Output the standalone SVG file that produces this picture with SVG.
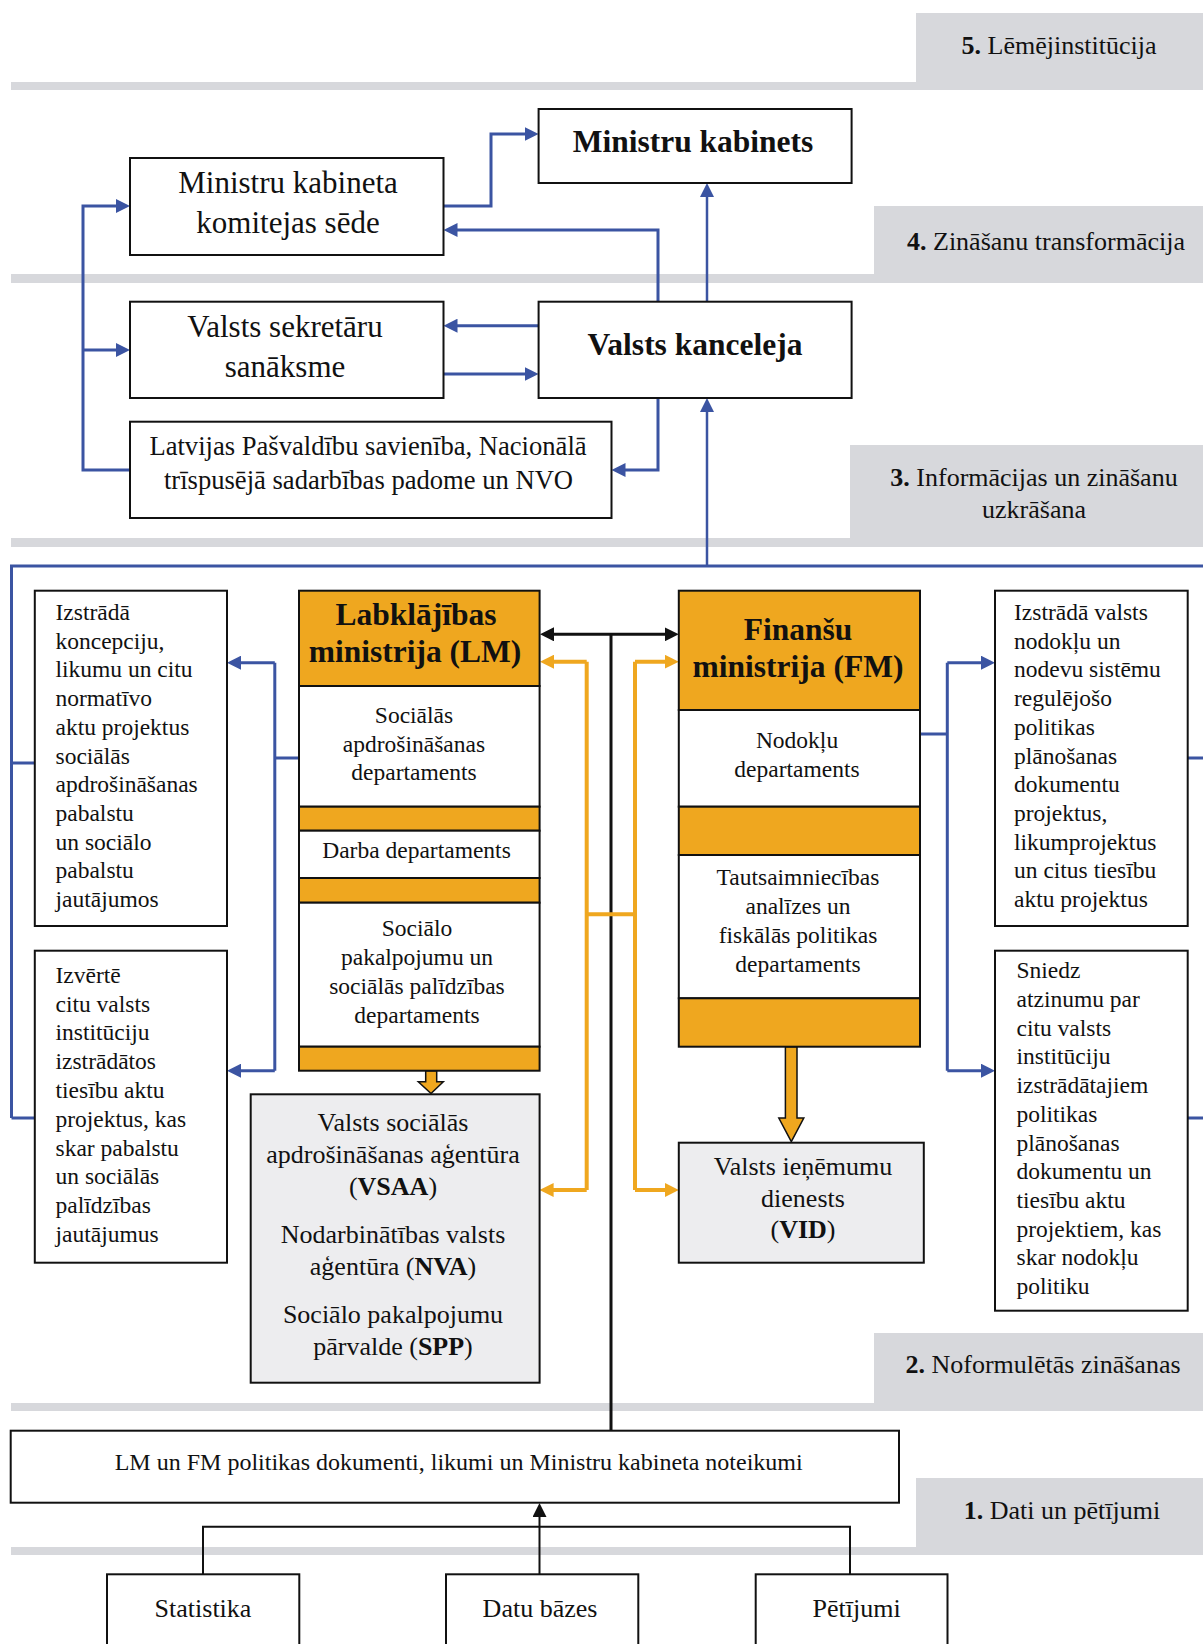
<svg xmlns="http://www.w3.org/2000/svg" width="1203" height="1644" viewBox="0 0 1203 1644">
<style>
text{font-family:"Liberation Serif","Times New Roman",serif;fill:#111}
.box{fill:#fff;stroke:#111;stroke-width:2}
.gbox{fill:#ededef;stroke:#111;stroke-width:2}
.obox{fill:#efa71f;stroke:#111;stroke-width:2}
.band{fill:#d7d8dc}
.lbl{font-size:26px;text-anchor:middle}
.big{font-size:31px;text-anchor:middle}
.bigb{font-size:31.5px;font-weight:bold;text-anchor:middle}
.mid{font-size:26px;text-anchor:middle}
.lps{font-size:26.6px;text-anchor:middle}
.doc{font-size:24px;text-anchor:middle}
.dep{font-size:23.5px;text-anchor:middle}
.side{font-size:23.5px}
.blue{fill:none;stroke:#3b54a2;stroke-width:3}
.blt{fill:none;stroke:#3b54a2;stroke-width:2.5}
.blk{fill:none;stroke:#111;stroke-width:3}
.blk2{fill:none;stroke:#111;stroke-width:2}
.org{fill:none;stroke:#efa71f;stroke-width:4}
.barrow{fill:#efa71f;stroke:#111;stroke-width:1.5}
</style>
<defs>
<marker id="ab" viewBox="0 0 14 14" markerWidth="14" markerHeight="14" refX="8" refY="7" orient="auto" markerUnits="userSpaceOnUse"><path d="M0,0 L14,7 L0,14 z" fill="#3b54a2"/></marker>
<marker id="ak" viewBox="0 0 14 14" markerWidth="14" markerHeight="14" refX="8" refY="7" orient="auto-start-reverse" markerUnits="userSpaceOnUse"><path d="M0,0 L14,7 L0,14 z" fill="#111"/></marker>
<marker id="ao" viewBox="0 0 14 14" markerWidth="14" markerHeight="14" refX="8" refY="7" orient="auto" markerUnits="userSpaceOnUse"><path d="M0,0 L14,7 L0,14 z" fill="#efa71f"/></marker>
</defs>

<g id="bands">
<rect class="band" x="916" y="13" width="287" height="70"/>
<rect class="band" x="11" y="82" width="1192" height="8"/>
<rect class="band" x="874" y="206" width="329" height="69"/>
<rect class="band" x="11" y="274" width="1192" height="9"/>
<rect class="band" x="850" y="445" width="353" height="94"/>
<rect class="band" x="11" y="538" width="1192" height="9"/>
<rect class="band" x="874" y="1333" width="329" height="71"/>
<rect class="band" x="11" y="1403" width="1192" height="8"/>
<rect class="band" x="916" y="1478" width="287" height="70"/>
<rect class="band" x="11" y="1547" width="1192" height="8"/>
<text class="lbl" x="1059" y="54"><tspan font-weight="bold">5.</tspan> Lēmējinstitūcija</text>
<text class="lbl" x="1046" y="250"><tspan font-weight="bold">4.</tspan> Zināšanu transformācija</text>
<text class="lbl" x="1034" y="486"><tspan font-weight="bold">3.</tspan> Informācijas un zināšanu</text>
<text class="lbl" x="1034" y="518">uzkrāšana</text>
<text class="lbl" x="1043" y="1373"><tspan font-weight="bold">2.</tspan> Noformulētās zināšanas</text>
<text class="lbl" x="1062" y="1519"><tspan font-weight="bold">1.</tspan> Dati un pētījumi</text>
</g>

<g id="connectors">
<path class="blue" d="M443.5,206 H491 V134 H532.6" marker-end="url(#ab)"/>
<path class="blue" d="M658,301.7 V230 H449.5" marker-end="url(#ab)"/>
<path class="blt" d="M707,301.7 V189" marker-end="url(#ab)"/>
<path class="blue" d="M538.6,325.7 H449.5" marker-end="url(#ab)"/>
<path class="blue" d="M443.5,374 H532.6" marker-end="url(#ab)"/>
<path class="blue" d="M658,398 V470 H617.5" marker-end="url(#ab)"/>
<path class="blue" d="M130,470 H83 V206 H124" marker-end="url(#ab)"/>
<path class="blue" d="M83,350 H124" marker-end="url(#ab)"/>
<path class="blt" d="M707,566 V404" marker-end="url(#ab)"/>
<path class="blue" d="M11.5,1118 V566 H1203"/>
<path class="blue" d="M11.5,763 H34.8 M11.5,1118 H34.8"/>
<path class="blue" d="M299,758 H274.8 M274.8,662.7 V1070.7"/>
<path class="blue" d="M274.8,662.7 H233" marker-end="url(#ab)"/>
<path class="blue" d="M274.8,1070.7 H233" marker-end="url(#ab)"/>
<path class="blue" d="M920,734 H947.3 M947.3,662.7 V1070.7"/>
<path class="blue" d="M947.3,662.7 H989" marker-end="url(#ab)"/>
<path class="blue" d="M947.3,1070.7 H989" marker-end="url(#ab)"/>
<path class="blue" d="M1187.7,758 H1203 M1187.7,1118 H1203"/>
<path class="blk" d="M546,634.3 H672.8" marker-start="url(#ak)" marker-end="url(#ak)"/>
<path class="blk" d="M611,634.3 V1430.7"/>
<path class="org" d="M586.7,661.7 V1190"/>
<path class="org" d="M586.7,661.7 H546" marker-end="url(#ao)"/>
<path class="org" d="M586.7,1190 H545.6" marker-end="url(#ao)"/>
<path class="org" d="M635,661.7 V1190 M586.7,914.3 H635"/>
<path class="org" d="M635,661.7 H672.8" marker-end="url(#ao)"/>
<path class="org" d="M635,1190 H672.8" marker-end="url(#ao)"/>
<path class="blk2" d="M539.5,1574.3 V1509" marker-end="url(#ak)"/>
<path class="blk2" d="M203,1574.3 V1526.7 H850 V1574.3"/>
<polygon class="barrow" points="425.7,1070.7 436.7,1070.7 436.7,1081.7 443.3,1081.7 431,1093.5 418.3,1081.7 425.7,1081.7"/>
<polygon class="barrow" points="785.4,1046.7 797,1046.7 797,1118 803.8,1118 791.3,1141.7 778.8,1118 785.4,1118"/>
</g>

<g id="mk">
<rect class="box" x="538.6" y="109" width="313" height="74"/>
<text class="bigb" x="693" y="152">Ministru kabinets</text>
</g>
<g id="mkks">
<rect class="box" x="130" y="158" width="313.5" height="97"/>
<text class="big" x="288" y="193">Ministru kabineta</text>
<text class="big" x="288" y="233">komitejas sēde</text>
</g>
<g id="vss">
<rect class="box" x="130" y="301.7" width="313.5" height="96.3"/>
<text class="big" x="285" y="337">Valsts sekretāru</text>
<text class="big" x="285" y="376.7">sanāksme</text>
</g>
<g id="vk">
<rect class="box" x="538.6" y="301.7" width="313" height="96.3"/>
<text class="bigb" x="695" y="355">Valsts kanceleja</text>
</g>
<g id="lps">
<rect class="box" x="130" y="421.7" width="481.5" height="96.3"/>
<text class="lps" x="368" y="455">Latvijas Pašvaldību savienība, Nacionālā</text>
<text class="lps" x="368.5" y="489">trīspusējā sadarbības padome un NVO</text>
</g>

<g id="left1">
<rect class="box" x="34.8" y="590.7" width="192.2" height="335.3"/>
<text class="side" x="55.5" y="620">Izstrādā</text>
<text class="side" x="55.5" y="648.7">koncepciju,</text>
<text class="side" x="55.5" y="677.4">likumu un citu</text>
<text class="side" x="55.5" y="706.1">normatīvo</text>
<text class="side" x="55.5" y="734.8">aktu projektus</text>
<text class="side" x="55.5" y="763.5">sociālās</text>
<text class="side" x="55.5" y="792.2">apdrošināšanas</text>
<text class="side" x="55.5" y="820.9">pabalstu</text>
<text class="side" x="55.5" y="849.6">un sociālo</text>
<text class="side" x="55.5" y="878.3">pabalstu</text>
<text class="side" x="55.5" y="907">jautājumos</text>
</g>
<g id="left2">
<rect class="box" x="34.8" y="950.7" width="192.2" height="312"/>
<text class="side" x="55.5" y="982.7">Izvērtē</text>
<text class="side" x="55.5" y="1011.5">citu valsts</text>
<text class="side" x="55.5" y="1040.3">institūciju</text>
<text class="side" x="55.5" y="1069.1">izstrādātos</text>
<text class="side" x="55.5" y="1097.9">tiesību aktu</text>
<text class="side" x="55.5" y="1126.7">projektus, kas</text>
<text class="side" x="55.5" y="1155.5">skar pabalstu</text>
<text class="side" x="55.5" y="1184.3">un sociālās</text>
<text class="side" x="55.5" y="1213.1">palīdzības</text>
<text class="side" x="55.5" y="1241.9">jautājumus</text>
</g>

<g id="lm">
<rect class="obox" x="299" y="590.7" width="240.6" height="95.3"/>
<rect class="box" x="299" y="686" width="240.6" height="120.7"/>
<rect class="obox" x="299" y="806.7" width="240.6" height="24"/>
<rect class="box" x="299" y="830.7" width="240.6" height="47.3"/>
<rect class="obox" x="299" y="878" width="240.6" height="24.7"/>
<rect class="box" x="299" y="902.7" width="240.6" height="144"/>
<rect class="obox" x="299" y="1046.7" width="240.6" height="24"/>
<text class="bigb" x="416" y="625">Labklājības</text>
<text class="bigb" x="415" y="661.7">ministrija (LM)</text>
<text class="dep" x="414" y="723.3">Sociālās</text>
<text class="dep" x="414" y="751.7">apdrošināšanas</text>
<text class="dep" x="414" y="780">departaments</text>
<text class="dep" x="416.5" y="858.3">Darba departaments</text>
<text class="dep" x="417" y="936">Sociālo</text>
<text class="dep" x="417" y="965">pakalpojumu un</text>
<text class="dep" x="417" y="994.3">sociālās palīdzības</text>
<text class="dep" x="417" y="1023.3">departaments</text>
</g>

<g id="agencies">
<rect class="gbox" x="250.7" y="1094.3" width="288.9" height="288.4"/>
<text class="mid" x="393" y="1131">Valsts sociālās</text>
<text class="mid" x="393" y="1163.3">apdrošināšanas aģentūra</text>
<text class="mid" x="393" y="1195">(<tspan font-weight="bold">VSAA</tspan>)</text>
<text class="mid" x="393" y="1243.3">Nodarbinātības valsts</text>
<text class="mid" x="393" y="1275">aģentūra (<tspan font-weight="bold">NVA</tspan>)</text>
<text class="mid" x="393" y="1323.3">Sociālo pakalpojumu</text>
<text class="mid" x="393" y="1355">pārvalde (<tspan font-weight="bold">SPP</tspan>)</text>
</g>

<g id="fm">
<rect class="obox" x="678.8" y="590.7" width="241.2" height="119.3"/>
<rect class="box" x="678.8" y="710" width="241.2" height="96.7"/>
<rect class="obox" x="678.8" y="806.7" width="241.2" height="48.3"/>
<rect class="box" x="678.8" y="855" width="241.2" height="143.3"/>
<rect class="obox" x="678.8" y="998.3" width="241.2" height="48.4"/>
<text class="bigb" x="798" y="640">Finanšu</text>
<text class="bigb" x="798" y="677.3">ministrija (FM)</text>
<text class="dep" x="797" y="748.3">Nodokļu</text>
<text class="dep" x="797" y="776.7">departaments</text>
<text class="dep" x="798" y="885">Tautsaimniecības</text>
<text class="dep" x="798" y="914">analīzes un</text>
<text class="dep" x="798" y="943">fiskālās politikas</text>
<text class="dep" x="798" y="971.7">departaments</text>
</g>

<g id="vid">
<rect class="gbox" x="678.8" y="1142.7" width="245" height="120"/>
<text class="mid" x="803" y="1175">Valsts ieņēmumu</text>
<text class="mid" x="803" y="1206.7">dienests</text>
<text class="mid" x="803" y="1238.3">(<tspan font-weight="bold">VID</tspan>)</text>
</g>

<g id="right1">
<rect class="box" x="995" y="590.7" width="192.7" height="335.3"/>
<text class="side" x="1014" y="620">Izstrādā valsts</text>
<text class="side" x="1014" y="648.7">nodokļu un</text>
<text class="side" x="1014" y="677.4">nodevu sistēmu</text>
<text class="side" x="1014" y="706.1">regulējošo</text>
<text class="side" x="1014" y="734.8">politikas</text>
<text class="side" x="1014" y="763.5">plānošanas</text>
<text class="side" x="1014" y="792.2">dokumentu</text>
<text class="side" x="1014" y="820.9">projektus,</text>
<text class="side" x="1014" y="849.6">likumprojektus</text>
<text class="side" x="1014" y="878.3">un citus tiesību</text>
<text class="side" x="1014" y="907">aktu projektus</text>
</g>
<g id="right2">
<rect class="box" x="995" y="950.7" width="192.7" height="360"/>
<text class="side" x="1016.5" y="978.3">Sniedz</text>
<text class="side" x="1016.5" y="1007">atzinumu par</text>
<text class="side" x="1016.5" y="1035.7">citu valsts</text>
<text class="side" x="1016.5" y="1064.4">institūciju</text>
<text class="side" x="1016.5" y="1093.1">izstrādātajiem</text>
<text class="side" x="1016.5" y="1121.8">politikas</text>
<text class="side" x="1016.5" y="1150.5">plānošanas</text>
<text class="side" x="1016.5" y="1179.2">dokumentu un</text>
<text class="side" x="1016.5" y="1207.9">tiesību aktu</text>
<text class="side" x="1016.5" y="1236.6">projektiem, kas</text>
<text class="side" x="1016.5" y="1265.3">skar nodokļu</text>
<text class="side" x="1016.5" y="1294">politiku</text>
</g>

<g id="docs">
<rect class="box" x="10.7" y="1430.7" width="888.3" height="72"/>
<text class="doc" x="458.7" y="1470">LM un FM politikas dokumenti, likumi un Ministru kabineta noteikumi</text>
</g>
<g id="statistika">
<rect class="box" x="107" y="1574.3" width="192.3" height="90"/>
<text class="mid" x="203" y="1616.7">Statistika</text>
</g>
<g id="datubazes">
<rect class="box" x="446" y="1574.3" width="192.3" height="90"/>
<text class="mid" x="540" y="1616.7">Datu bāzes</text>
</g>
<g id="petijumi">
<rect class="box" x="755.7" y="1574.3" width="191.8" height="90"/>
<text class="mid" x="856.6" y="1616.7">Pētījumi</text>
</g>
</svg>
